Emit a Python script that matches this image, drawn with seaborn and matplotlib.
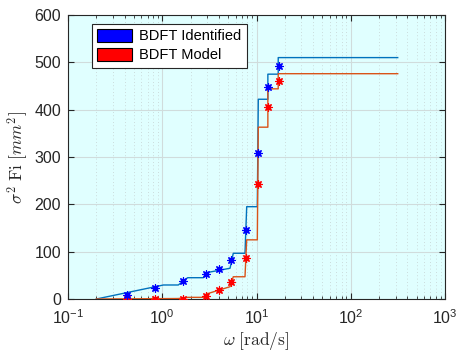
import numpy as np
import pandas as pd
import matplotlib
matplotlib.use("Agg")
import matplotlib.pyplot as plt
import seaborn as sns
from matplotlib.patches import Patch
from matplotlib.ticker import LogLocator, NullFormatter, MultipleLocator

# ---- data ----
omega_pts = [0.42, 0.84, 1.67, 2.91, 4.0, 5.41, 7.74, 10.5, 13.2, 17.5]
ident_pts = [9, 24, 38, 53, 63, 82, 146, 308, 448, 492]
model_pts = [0, 0, 1, 7, 18, 36, 86, 244, 406, 460]

ident_line_w = [0.2, 1.03, 1.48, 1.86, 2.73, 2.95, 5.24, 5.67, 7.55, 7.87, 10.2, 10.45, 13.2, 13.2, 17.0, 17.0, 315]
ident_line_v = [0, 29.6, 29.6, 45, 45, 55.6, 65, 96.6, 96.6, 195, 195, 422, 422, 475, 475, 510, 510]

model_line_w = [0.2, 1.48, 1.83, 2.73, 2.95, 5.24, 5.67, 7.55, 7.87, 10.2, 10.45, 13.2, 13.2, 17.0, 17.0, 315]
model_line_v = [0, 1, 3.5, 3.5, 10.6, 26, 47, 47, 125, 125, 363, 363, 444, 444, 476, 476]

line_blue = "#0072BD"
line_red = "#D95319"

plt.rcParams["font.family"] = ["Liberation Sans", "DejaVu Sans"]
plt.rcParams["mathtext.fontset"] = "cm"

fig = plt.figure(figsize=(4.57, 3.53), dpi=100)
ax = fig.add_axes([68 / 457, 1 - 299 / 353, (445 - 68) / 457, (299 - 15) / 353])
ax.set_facecolor("#E0FFFF")

df_i = pd.DataFrame({"w": ident_line_w, "v": ident_line_v})
df_m = pd.DataFrame({"w": model_line_w, "v": model_line_v})
sns.lineplot(data=df_i, x="w", y="v", sort=False, estimator=None, ax=ax,
             color=line_blue, linewidth=1.0, zorder=3)
sns.lineplot(data=df_m, x="w", y="v", sort=False, estimator=None, ax=ax,
             color=line_red, linewidth=1.0, zorder=3)

pts = pd.DataFrame({"w": omega_pts, "ident": ident_pts, "model": model_pts})
ast = (8, 2, 0)
sns.scatterplot(data=pts, x="w", y="model", ax=ax, marker=ast, s=28,
                color="red", edgecolor="red", linewidth=0.9, zorder=4)
sns.scatterplot(data=pts, x="w", y="ident", ax=ax, marker=ast, s=28,
                color="blue", edgecolor="blue", linewidth=0.9, zorder=4)

ax.set_xscale("log")
ax.set_xlim(0.1, 1000)
ax.set_ylim(0, 600)
ax.yaxis.set_major_locator(MultipleLocator(100))
ax.xaxis.set_major_locator(LogLocator(base=10, numticks=10))
ax.xaxis.set_minor_locator(LogLocator(base=10, subs=np.arange(2, 10), numticks=20))
ax.xaxis.set_minor_formatter(NullFormatter())

ax.grid(True, which="major", color="#d0dcdc", linewidth=0.8, linestyle="-")
ax.grid(True, which="minor", axis="x", color="#c4d0d0", linewidth=0.6, linestyle=(0, (1, 3)))
ax.set_axisbelow(True)

ax.tick_params(which="both", direction="in", top=True, right=True, labelsize=11.5, colors="#262626")
ax.tick_params(which="major", length=4, width=0.8)
ax.tick_params(which="minor", length=2.5, width=0.6)
ax.tick_params(axis="x", which="major", pad=7)
ax.tick_params(axis="y", which="major", pad=5)
for s in ax.spines.values():
    s.set_color("#262626")
    s.set_linewidth(0.8)

ax.set_xlabel(r"$\omega\ [\mathrm{rad/s}]$", fontsize=12.5, color="#262626", labelpad=2)
ax.set_ylabel(r"$\sigma^2\ \mathrm{Fi}\ [mm^2]$", fontsize=12.5, color="#262626", labelpad=3)

handles = [Patch(facecolor="blue", edgecolor="black", linewidth=0.8, label="BDFT Identified"),
           Patch(facecolor="red", edgecolor="black", linewidth=0.8, label="BDFT Model")]
leg = ax.legend(handles=handles, loc="upper left", bbox_to_anchor=(0.063, 0.97),
                fontsize=10.5, frameon=True, fancybox=False, framealpha=1,
                edgecolor="#262626", borderpad=0.35, handlelength=2.4, handleheight=1.05,
                labelspacing=0.3, handletextpad=0.5, borderaxespad=0.0)
leg.get_frame().set_linewidth(0.8)

fig.savefig("out.png", dpi=100)
